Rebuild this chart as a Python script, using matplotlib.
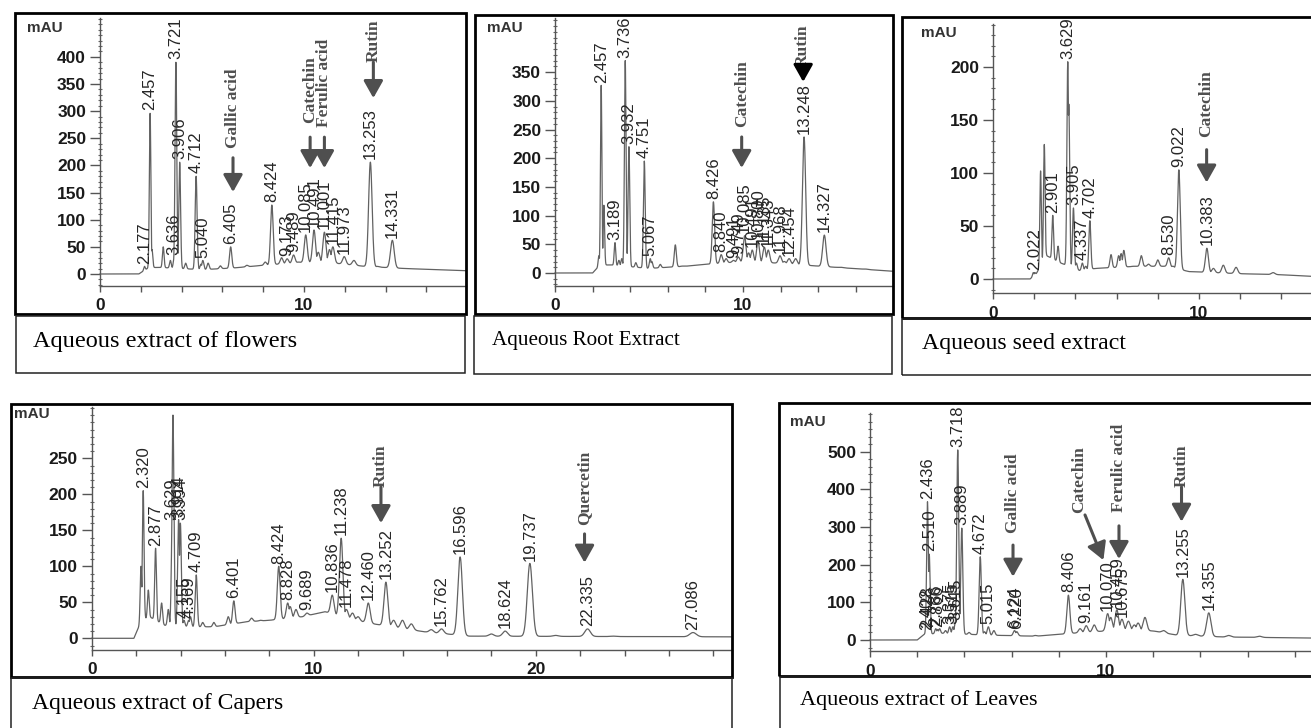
import numpy as np
import matplotlib

matplotlib.use('Agg')
import matplotlib.pyplot as plt
from matplotlib.patches import Rectangle
from matplotlib.ticker import FixedLocator

# ---- data: labelled peaks (retention time, apex height in mAU) ----
# Aqueous extract of flowers
flw_rt = [2.177, 2.457, 3.636, 3.721, 3.906, 4.712, 5.040, 6.405, 8.424, 9.173, 9.489,
          10.085, 10.491, 11.001, 11.415, 11.973, 13.253, 14.331]
flw_h = [14, 296, 30, 390, 206, 180, 25, 50, 127, 28, 35, 72, 81, 77, 50, 32, 206, 62]
flw_minor_rt = [2.55, 3.10, 3.45, 4.20, 4.95, 5.30, 5.90, 7.20, 8.10, 8.90, 9.70, 10.70,
                11.25, 12.45, 13.60, 15.10]
flw_minor_h = [45, 50, 25, 20, 18, 20, 15, 16, 22, 30, 22, 40, 45, 25, 14, 10]
flw_base_t = [0, 1.9, 2.4, 3.0, 5.0, 6.5, 8.0, 10.0, 11.5, 13.0, 15.0, 18.0]
flw_base = [0, 0, 12, 12, 8, 11, 16, 22, 20, 14, 10, 6]

# Aqueous root extract
root_rt = [2.457, 3.189, 3.736, 3.932, 4.751, 5.067, 8.426, 8.840, 9.491, 9.749, 10.085,
           10.491, 10.800, 11.135, 11.343, 11.968, 12.454, 13.248, 14.327]
root_h = [327, 53, 370, 220, 195, 25, 124, 32, 22, 28, 65, 40, 55, 45, 40, 30, 25, 237, 66]
root_minor_rt = [2.33, 2.60, 3.40, 3.55, 4.30, 5.15, 5.60, 6.40, 6.75, 7.50, 8.15, 9.10,
                 10.30, 12.20, 12.80, 13.60, 14.00, 15.20, 16.50]
root_minor_h = [30, 118, 22, 25, 18, 20, 15, 49, 12, 10, 14, 25, 35, 20, 25, 12, 10, 10, 7]
root_base_t = [0, 2.0, 2.4, 3.0, 5.0, 7.0, 8.0, 10.0, 12.0, 14.0, 18.0]
root_base = [0, 0, 14, 14, 8, 12, 15, 20, 17, 12, 3]

# Aqueous seed extract
seed_rt = [2.022, 2.901, 3.629, 3.905, 4.337, 4.702, 8.530, 9.022, 10.383]
seed_h = [6, 60, 205, 67, 15, 55, 20, 103, 29]
seed_minor_rt = [1.95, 2.31, 2.49, 3.16, 3.68, 4.05, 4.50, 5.73, 6.10, 6.22, 6.35, 6.80,
                 7.20, 7.55, 8.00, 8.75, 10.70, 11.18, 11.80, 13.60]
seed_minor_h = [6, 102, 127, 31, 165, 15, 12, 23, 22, 24, 27, 12, 22, 14, 18, 12, 10, 13, 11, 6]
seed_base_t = [0, 1.8, 2.1, 2.6, 3.3, 4.2, 5.0, 7.0, 8.5, 9.5, 12.0, 14.0, 16.0]
seed_base = [0, 0, 5, 22, 15, 8, 10, 12, 12, 7, 5, 4, 2]

# Aqueous extract of capers
cap_rt = [2.320, 2.877, 3.629, 3.914, 3.994, 4.155, 4.369, 4.709, 6.401, 8.424, 8.828,
          9.689, 10.836, 11.238, 11.478, 12.460, 13.252, 15.762, 16.596, 18.624, 19.737,
          22.335, 27.086]
cap_h = [205, 125, 160, 165, 160, 25, 25, 88, 52, 100, 49, 35, 60, 139, 40, 49, 78, 13,
         113, 10, 104, 13, 8]
cap_minor_rt = [2.22, 2.55, 3.15, 3.45, 3.66, 4.45, 5.00, 5.50, 6.15, 7.20, 7.60, 8.94,
                9.20, 10.10, 10.60, 11.75, 12.00, 13.60, 14.00, 14.40, 15.30, 18.00,
                20.90, 23.50]
cap_minor_h = [100, 67, 49, 40, 310, 30, 22, 22, 30, 28, 25, 44, 40, 30, 35, 35, 30, 25,
               25, 20, 12, 6, 4, 3]
cap_base_t = [0, 1.9, 2.25, 2.6, 3.3, 4.5, 5.5, 7.0, 8.0, 9.5, 10.5, 11.5, 12.5, 13.5,
              15.0, 17.0, 29.0]
cap_base = [0, 0, 25, 30, 18, 16, 16, 23, 25, 30, 37, 28, 21, 16, 9, 3, 2]

# Aqueous extract of leaves
leaf_rt = [2.402, 2.428, 2.436, 2.510, 2.786, 2.866, 3.375, 3.515, 3.615, 3.718, 3.889,
           4.672, 5.015, 6.124, 6.220, 8.406, 9.161, 10.070, 10.459, 10.675, 13.255, 14.355]
leaf_h = [20, 25, 367, 228, 30, 28, 35, 35, 45, 505, 297, 221, 35, 25, 22, 119, 38, 70,
          80, 55, 161, 72]
leaf_minor_rt = [2.95, 3.20, 4.20, 4.85, 5.25, 7.00, 8.90, 9.50, 10.20, 10.95, 11.20,
                 11.36, 11.65, 12.45, 12.90, 13.80, 15.20, 16.50]
leaf_minor_h = [30, 25, 20, 22, 25, 12, 30, 40, 60, 50, 40, 45, 60, 25, 12, 15, 12, 10]
leaf_base_t = [0, 2.0, 2.3, 3.0, 5.0, 7.0, 9.0, 10.5, 12.0, 13.0, 15.0, 19.0]
leaf_base = [0, 0, 15, 18, 13, 10, 20, 26, 24, 13, 8, 5]

# compound marks
flw_names = ['Gallic acid', 'Catechin', 'Ferulic acid', 'Rutin']
root_names = ['Catechin', 'Rutin']
seed_names = ['Catechin']
cap_names = ['Rutin', 'Quercetin']
leaf_names = ['Gallic acid', 'Catechin', 'Ferulic acid', 'Rutin']

captions = ['Aqueous extract of flowers', 'Aqueous Root Extract', 'Aqueous seed extract',
            'Aqueous extract of Capers', 'Aqueous extract of Leaves']

# ---- layout (pixels of the 1311x728 canvas) ----
W, H = 1311, 728
fig = plt.figure(figsize=(W / 100, H / 100), dpi=100)

TRACE = '#626262'
GREY = '#4f4f4f'


def fx(px):
    return px / W


def fy(py):
    return 1 - py / H


def frame(x0, y0, x1, y1, lw, color):
    fig.add_artist(Rectangle((fx(x0), fy(y1)), fx(x1) - fx(x0), fy(y0) - fy(y1),
                             transform=fig.transFigure, fill=False, lw=lw, ec=color))


def chromatogram(grid, rts, hs, bt, bl):
    base = np.interp(grid, bt, bl)
    top = np.zeros_like(grid)
    for r, h in zip(rts, hs):
        amp = max(h - np.interp(r, bt, bl), 0)
        s = 0.026 + 0.0045 * r
        top = np.maximum(top, amp * np.exp(-0.5 * ((grid - r) / s) ** 2))
    return base + top


panels = [
    dict(box=(15, 13, 466, 314), ox=100, sx=20.4, oy=274, sy=0.543, axis=286, rtop=18,
         yt=(400, 50), ymin=10, xmaj=[0, 10], cap=(16, 316, 465, 373), ctext=(33, 341),
         csize=17.5, mau=(45, 28),
         rt=flw_rt, h=flw_h, mrt=flw_minor_rt, mh=flw_minor_h, bt=flw_base_t, bl=flw_base,
         names=flw_names,
         text_at=[(6.52, 232), (10.3, 278), (11.0, 271), (13.4, 390)],
         arrows=[((6.52, 214), (6.52, 151)), ((10.3, 252), (10.3, 195)),
                 ((11.0, 252), (11.0, 195)), ((13.4, 390), (13.4, 324))],
         acolor=[GREY, GREY, GREY, GREY]),
    dict(box=(475, 15, 893, 314), ox=555, sx=18.8, oy=273, sy=0.574, axis=286, rtop=18,
         yt=(350, 50), ymin=10, xmaj=[0, 10], cap=(474, 316, 892, 374), ctext=(492, 341),
         csize=15.2, mau=(505, 28),
         rt=root_rt, h=root_h, mrt=root_minor_rt, mh=root_minor_h, bt=root_base_t,
         bl=root_base, names=root_names,
         text_at=[(9.93, 254), (13.2, 359)],
         arrows=[((9.93, 237), (9.93, 183)), ((13.2, 359), (13.2, 333))],
         acolor=[GREY, 'black']),
    dict(box=(902, 17, 1313, 318), ox=993, sx=20.6, oy=279, sy=1.06, axis=293, rtop=24,
         yt=(200, 50), ymin=10, xmaj=[0, 10], cap=(902, 319, 1313, 375), ctext=(922, 343),
         csize=17.2, mau=(939, 33),
         rt=seed_rt, h=seed_h, mrt=seed_minor_rt, mh=seed_minor_h, bt=seed_base_t,
         bl=seed_base, names=seed_names,
         text_at=[(10.37, 134)],
         arrows=[((10.37, 122), (10.37, 91))],
         acolor=[GREY]),
    dict(box=(11, 404, 732, 677), ox=91.7, sx=22.2, oy=638.3, sy=0.72, axis=650, rtop=407,
         yt=(250, 50), ymin=10, xmaj=[0, 10, 20], cap=(11, 678, 732, 740), ctext=(32, 703),
         csize=17, mau=(32, 414),
         rt=cap_rt, h=cap_h, mrt=cap_minor_rt, mh=cap_minor_h, bt=cap_base_t, bl=cap_base,
         names=cap_names,
         text_at=[(13.03, 210), (22.2, 157)],
         arrows=[((13.03, 210), (13.03, 160)), ((22.2, 145), (22.2, 105))],
         acolor=[GREY, GREY]),
    dict(box=(779, 403, 1313, 676), ox=870, sx=23.6, oy=640, sy=0.3767, axis=651, rtop=413,
         yt=(500, 100), ymin=20, xmaj=[0, 10], cap=(780, 677, 1313, 740), ctext=(800, 700),
         csize=16, mau=(808, 422),
         rt=leaf_rt, h=leaf_h, mrt=leaf_minor_rt, mh=leaf_minor_h, bt=leaf_base_t,
         bl=leaf_base, names=leaf_names,
         text_at=[(6.06, 284), (8.86, 337), (10.55, 340), (13.2, 406)],
         arrows=[((6.06, 252), (6.06, 168)), ((9.11, 332), (9.89, 212)),
                 ((10.55, 303), (10.55, 215)), ((13.2, 406), (13.2, 314))],
         acolor=[GREY, GREY, GREY, GREY]),
]

for p, caption in zip(panels, captions):
    x0, y0, x1, y1 = p['box']
    ax = fig.add_axes([fx(x0), fy(y1), fx(x1) - fx(x0), fy(y0) - fy(y1)])
    ax.patch.set_visible(False)
    xlo, xhi = (x0 - p['ox']) / p['sx'], (x1 - p['ox']) / p['sx']
    ylo, yhi = -(y1 - p['oy']) / p['sy'], (p['oy'] - y0) / p['sy']
    ax.set_xlim(xlo, xhi)
    ax.set_ylim(ylo, yhi)
    axis_y = -(p['axis'] - p['oy']) / p['sy']
    ruler_top = (p['oy'] - p['rtop']) / p['sy']

    grid = np.arange(0, xhi, 0.004)
    ax.plot(grid, chromatogram(grid, p['rt'] + p['mrt'], p['h'] + p['mh'], p['bt'], p['bl']),
            color=TRACE, lw=0.9)

    for r, h in zip(p['rt'], p['h']):
        ax.annotate(f'{r:.3f}', (r, h), xytext=(0, 2), textcoords='offset points',
                    rotation=90, ha='center', va='bottom', fontsize=12,
                    family='Liberation Sans', color='#262626', annotation_clip=False,
                    clip_on=True)

    for name, (tx, ty), (tail, tip), c in zip(p['names'], p['text_at'], p['arrows'], p['acolor']):
        ax.text(tx, ty, name, rotation=90, ha='center', va='bottom', fontsize=12.5,
                family='Liberation Serif', weight='bold', color=GREY, clip_on=True)
        ax.annotate('', xy=tip, xytext=tail,
                    arrowprops=dict(arrowstyle='-|>,head_length=0.8,head_width=0.45',
                                    lw=2.2, color=c, mutation_scale=13,
                                    shrinkA=0, shrinkB=0))

    for side in ['top', 'right']:
        ax.spines[side].set_visible(False)
    ax.spines['left'].set_position(('data', 0))
    ax.spines['left'].set_bounds(axis_y, ruler_top)
    ax.spines['bottom'].set_position(('data', axis_y))
    ax.spines['bottom'].set_bounds(0, xhi)
    for side in ['left', 'bottom']:
        ax.spines[side].set_color('#555555')
        ax.spines[side].set_linewidth(1)

    ymax, ystep = p['yt']
    ax.yaxis.set_major_locator(FixedLocator(np.arange(0, ymax + 1, ystep)))
    m = p['ymin']
    ax.yaxis.set_minor_locator(FixedLocator(np.arange(np.ceil(axis_y / m) * m, ruler_top, m)))
    ax.xaxis.set_major_locator(FixedLocator(p['xmaj']))
    ax.xaxis.set_minor_locator(FixedLocator(np.arange(2, xhi, 2)))
    ax.tick_params(axis='y', which='major', length=7, width=1, color='#555555', pad=3,
                   labelsize=12.5, labelcolor='#1a1a1a')
    ax.tick_params(axis='y', which='minor', length=3.5, width=0.8, color='#666666',
                   direction='inout')
    ax.tick_params(axis='x', which='both', length=4, width=1, color='#555555', pad=5,
                   labelsize=12.5, labelcolor='#1a1a1a')
    for lab in ax.get_xticklabels() + ax.get_yticklabels():
        lab.set_family('Liberation Sans')
        lab.set_weight('bold')

    fig.text(fx(p['mau'][0]), fy(p['mau'][1]), 'mAU', ha='center', va='center',
             fontsize=11, family='Liberation Sans', weight='bold', color='#333333')

    frame(x0, y0, x1, y1, 2, 'black')
    cx0, cy0, cx1, cy1 = p['cap']
    frame(cx0, cy0, cx1, cy1, 1.1, '#222222')
    fig.text(fx(p['ctext'][0]), fy(p['ctext'][1]), caption, ha='left', va='center',
             fontsize=p['csize'], family='Liberation Serif', color='black')

fig.savefig('out.png', dpi=100)
